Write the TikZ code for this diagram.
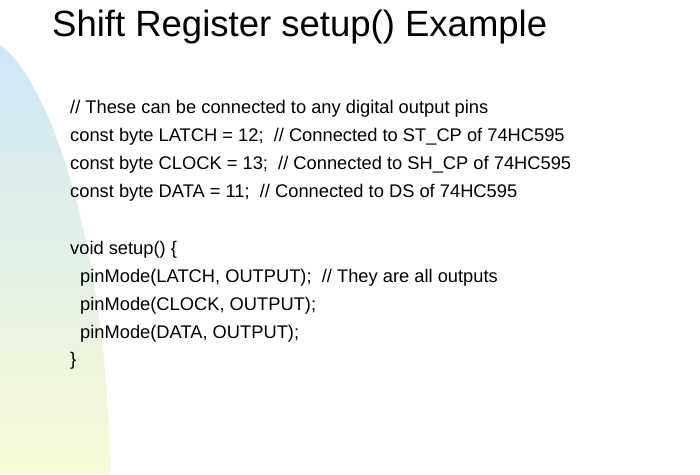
\documentclass[tikz,border=0pt]{standalone}
\usepackage{fontspec}
\setmainfont{Liberation Sans}
\definecolor{blobtop}{HTML}{CFE7F7}
\definecolor{blobmid}{HTML}{E5F2E8}
\definecolor{blobbottom}{HTML}{F8FAD6}
\begin{document}
\begin{tikzpicture}[x=1pt,y=-1pt]
    \tikzstyle{codeline}=[anchor=base west,inner sep=0pt,font=\fontsize{18.3}{22}\selectfont]
    \tikzstyle{heading}=[anchor=base west,inner sep=0pt,font=\fontsize{36.5}{40}\selectfont]
    \useasboundingbox (0,0) rectangle (700,474);

    % backdrop on the left
    \shade[top color=blobtop, middle color=blobmid, bottom color=blobbottom]
        (0,474) -- (0,45) .. controls (50,80) and (108,250) .. (110,474) -- cycle;

    \node[heading] (title) at (52,36) {Shift Register setup() Example};

    \foreach \num/\x/\y/\txt in {
            1/70/113/{// These can be connected to any digital output pins},
            2/70/141/{const byte LATCH = 12;\ \ // Connected to ST\_CP of 74HC595},
            3/70/169/{const byte CLOCK = 13;\ \ // Connected to SH\_CP of 74HC595},
            4/70/197/{const byte DATA = 11;\ \ // Connected to DS of 74HC595},
            5/70/254/{void setup() \{},
            6/80/282/{pinMode(LATCH, OUTPUT);\ \ // They are all outputs},
            7/80/310/{pinMode(CLOCK, OUTPUT);},
            8/80/338/{pinMode(DATA, OUTPUT);},
            9/70/365/{\}}}
        \node[codeline] (L-\num) at (\x,\y) {\txt};
\end{tikzpicture}
\end{document}
